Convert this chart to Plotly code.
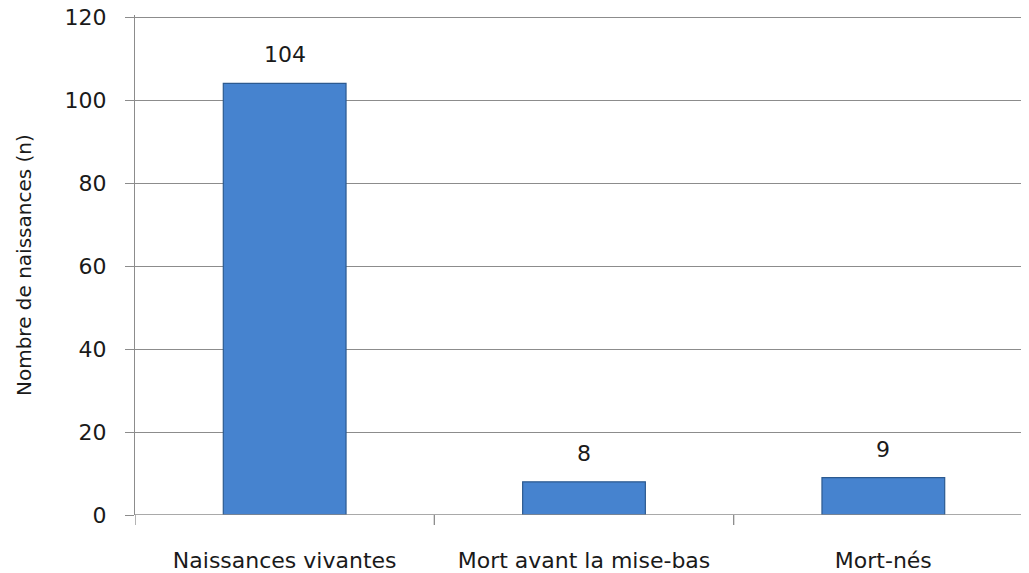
import plotly.graph_objects as go

categories = ["Naissances vivantes", "Mort avant la mise-bas", "Mort-nés"]
values = [104, 8, 9]
y_ticks = [0, 20, 40, 60, 80, 100, 120]
y_title = "Nombre de naissances (n)"

fig = go.Figure()
fig.add_trace(go.Bar(
    x=list(range(len(categories))), y=values,
    width=0.41,
    marker=dict(color="#4683CF", line=dict(color="#2C5A90", width=1.2)),
    hoverinfo="skip",
))

for i, v in enumerate(values):
    fig.add_annotation(x=i, y=v, text=str(v), showarrow=False, yanchor="bottom",
                       yshift=14, font=dict(family="DejaVu Sans", size=22, color="#1a1a1a"))

# y-axis title as rotated annotation
fig.add_annotation(x=0, y=0.5, xref="paper", yref="paper", text=y_title, textangle=-90,
                   showarrow=False, xanchor="center", yanchor="middle", xshift=-111,
                   font=dict(family="DejaVu Sans", size=20, color="#1a1a1a"))

# note: the page body adds an 8px offset; margins compensate so the plot area
# lands at x=135..1033, y=~15..515 on screen
fig.update_layout(
    width=1029, height=573,
    margin=dict(l=127, r=4, t=7, b=66),
    paper_bgcolor="white", plot_bgcolor="white",
    showlegend=False,
    font=dict(family="DejaVu Sans", size=22, color="#1a1a1a"),
    xaxis=dict(
        tickmode="array", tickvals=list(range(len(categories))), ticktext=categories,
        range=[-0.5, 2.5], showgrid=False, zeroline=False, automargin=False,
        showline=False, ticks="", tickfont=dict(size=22),
        ticklabelstandoff=30,
    ),
    yaxis=dict(
        range=[0, 120.5], tickvals=y_ticks, showgrid=True, gridcolor="#8c8c8c", gridwidth=1.3,
        zeroline=False, showline=True, linecolor="#8c8c8c", linewidth=1.3, automargin=False,
        ticks="outside", ticklen=9, tickcolor="#8c8c8c", tickwidth=1.3,
        tickfont=dict(size=22), ticklabelstandoff=14, ticklabeloverflow="allow",
    ),
)

# x-axis baseline and category-boundary tick marks
fig.add_shape(type="line", xref="x", yref="y", x0=-0.5, x1=2.5, y0=0, y1=0,
              line=dict(color="#8c8c8c", width=1.5))
for b in [-0.5, 0.5, 1.5]:
    fig.add_shape(type="line", xref="x", yref="paper", x0=b, x1=b, y0=0, y1=-0.02,
                  line=dict(color="#8c8c8c", width=1.3))

fig.write_html("out.html")
